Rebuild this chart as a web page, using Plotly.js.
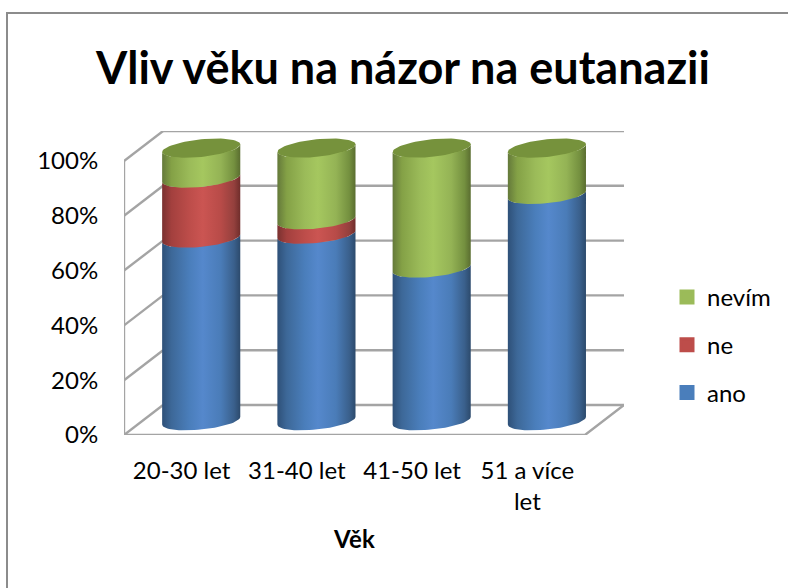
<!DOCTYPE html>
<html>
<head>
<meta charset="utf-8">
<script src="https://cdn.plot.ly/plotly-3.0.1.min.js"></script>
<style>html,body{margin:0;padding:0;background:#fff}</style>
</head>
<body>
<div id="chart" style="width:788px;height:588px"></div>
<script>
const categories = ['20-30 let', '31-40 let', '41-50 let', '51 a více<br>let'];
const ano = [67, 68.4, 56, 83];
const ne = [22, 5.3, 0, 0];
const nevim = [11, 26.3, 44, 17];
const yTicks = [0, 20, 40, 60, 80, 100];
const yTickText = ['0%', '20%', '40%', '60%', '80%', '100%'];

const FONT = 'Lato, "Open Sans", sans-serif';
const xs = categories.map((_, i) => i);
const wall = {dx: 0.339, dy: 10.95};
const cyl = {dx: 0.17, dy: 5.2, a: 0.339, tilt: 1.4, b: 3.2, scale: 0.995};
const grey = '#a4a4a4';

const palettes = {
  ano: ['#2e5078', '#3d6898', '#4a7ebb', '#5588cc', '#4a7cb8', '#3a608c', '#2c4a6c'],
  ne: ['#7a3130', '#a3403e', '#bd4d4a', '#cb5552', '#b84b48', '#94403d', '#6f2d2b'],
  nevim: ['#64793a', '#84a146', '#9bbb59', '#a5c75f', '#94b355', '#74903f', '#5a6d30']
};
function scale(p) {
  const st = [0, 0.12, 0.35, 0.52, 0.75, 0.92, 1];
  return st.map((s, i) => [s, p[i]]);
}

// Wall and floor lines, from the value ticks
const gx = [], gy = [];
const front0 = -0.5, front1 = 3.5;
yTicks.forEach(t => {
  gx.push(front0 + wall.dx, front1 + wall.dx, null);
  gy.push(t + wall.dy, t + wall.dy, null);
  gx.push(front0, front0 + wall.dx, null);
  gy.push(t, t + wall.dy, null);
});
gx.push(front0, front0, null, front0, front1, front1 + wall.dx, null);
gy.push(0, 100, null, 0, 0, wall.dy, null);

const traces = [{
  type: 'scatter', mode: 'lines', x: gx, y: gy,
  line: {color: grey, width: 2.4}, showlegend: false, hoverinfo: 'skip'
}];

const series = [
  {name: 'ano', v: ano, pal: palettes.ano},
  {name: 'ne', v: ne, pal: palettes.ne},
  {name: 'nevím', v: nevim, pal: palettes.nevim}
];

const cum = categories.map(() => 0);
series.forEach(s => {
  s.from = cum.slice();
  s.v.forEach((v, i) => { cum[i] += v; });
  s.to = cum.slice();
});

// Bars carry the values and the legend swatches; listed top legend entry first
const barW = 0.5;
series.slice().reverse().forEach(s => {
  traces.push({
    type: 'bar', name: s.name, x: xs, y: s.v,
    base: s.from.map(f => f * cyl.scale + cyl.dy),
    width: barW, offset: cyl.dx - barW / 2,
    marker: {color: s.pal[2], line: {color: s.pal[2], width: 3}},
    legendgroup: s.name
  });
});

// Curved cylinder skins on top of the bars
function arc(cx, v, reverse) {
  const pts = [];
  const n = 36;
  for (let k = 0; k <= n; k++) {
    const t = Math.PI + Math.PI * (reverse ? n - k : k) / n;
    pts.push([
      cx + cyl.a * Math.cos(t),
      v * cyl.scale + cyl.dy + cyl.tilt * Math.cos(t) + cyl.b * Math.sin(t)
    ]);
  }
  return pts;
}
series.forEach(s => {
  s.v.forEach((v, i) => {
    if (!v) return;
    const cx = i + cyl.dx;
    const pts = arc(cx, s.from[i], false).concat(arc(cx, s.to[i], true));
    pts.push(pts[0]);
    traces.push({
      type: 'scatter', mode: 'lines', x: pts.map(p => p[0]), y: pts.map(p => p[1]),
      fill: 'toself', line: {width: 0, color: 'rgba(0,0,0,0)'},
      fillgradient: {type: 'horizontal', colorscale: scale(s.pal), start: cx - cyl.a, stop: cx + cyl.a},
      showlegend: false, hoverinfo: 'skip'
    });
  });
});
// Top caps
categories.forEach((_, i) => {
  const cx = i + cyl.dx;
  const pts = [];
  for (let k = 0; k <= 72; k++) {
    const t = 2 * Math.PI * k / 72;
    pts.push([
      cx + cyl.a * Math.cos(t),
      cum[i] * cyl.scale + cyl.dy + cyl.tilt * Math.cos(t) + cyl.b * Math.sin(t)
    ]);
  }
  traces.push({
    type: 'scatter', mode: 'lines', x: pts.map(p => p[0]), y: pts.map(p => p[1]),
    fill: 'toself', fillcolor: '#76923c', line: {width: 0, color: 'rgba(0,0,0,0)'},
    showlegend: false, hoverinfo: 'skip'
  });
});

const M = {l: 124, r: 164, t: 131, b: 153};
const W = 788, H = 588;
const pw = W - M.l - M.r, ph = H - M.t - M.b;
const px = v => (v - M.l) / pw;
const py = v => 1 - (v - M.t) / ph;

const layout = {
  width: W, height: H, margin: M,
  paper_bgcolor: '#fff', plot_bgcolor: 'rgba(0,0,0,0)',
  font: {family: FONT, size: 24, color: '#000'},
  barmode: 'overlay',
  title: {
    text: 'Vliv věku na názor na eutanazii',
    font: {family: FONT, size: 45, color: '#000', weight: 'bold'},
    xref: 'container', yref: 'container', x: 403 / W, xanchor: 'center',
    y: 1 - 68 / H, yanchor: 'middle'
  },
  xaxis: {
    range: [front0, front1 + wall.dx], tickmode: 'array', tickvals: xs, ticktext: categories,
    showgrid: false, zeroline: false, showline: false, ticks: 'outside', ticklen: 14,
    tickcolor: 'rgba(0,0,0,0)', tickangle: 0, fixedrange: true
  },
  yaxis: {
    range: [0, 100 + wall.dy], tickmode: 'array', tickvals: yTicks, ticktext: yTickText,
    showgrid: false, zeroline: false, showline: false, ticks: 'outside', ticklen: 20,
    tickcolor: 'rgba(0,0,0,0)', fixedrange: true
  },
  legend: {
    x: px(667), xanchor: 'left', y: py(275), yanchor: 'top',
    traceorder: 'grouped', tracegroupgap: 13.5, font: {family: FONT, size: 24},
    bgcolor: 'rgba(0,0,0,0)', itemclick: false, itemdoubleclick: false
  },
  annotations: [{
    text: '<b>Věk</b>', xref: 'x', yref: 'paper', x: (front0 + front1) / 2, y: py(538),
    xanchor: 'center', yanchor: 'middle', showarrow: false,
    font: {family: FONT, size: 24, color: '#000'}
  }],
  shapes: [{
    type: 'path', xref: 'paper', yref: 'paper', layer: 'below',
    path: `M ${px(7)} ${py(H)} L ${px(7)} ${py(13)} L ${px(W)} ${py(13)}`,
    line: {color: '#8c8c8c', width: 2}
  }]
};

Plotly.newPlot('chart', traces, layout, {displayModeBar: false, responsive: false});
</script>
</body>
</html>
